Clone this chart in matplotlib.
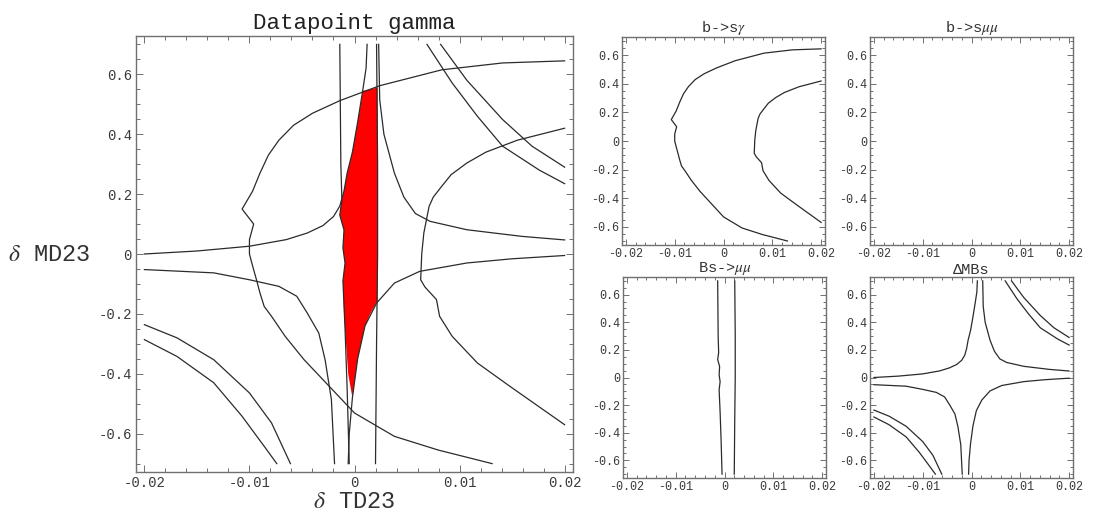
import numpy as np
import matplotlib.pyplot as plt

# tick values shared by all panels
x_ticks = [-0.02, -0.01, 0.0, 0.01, 0.02]
x_tick_labels = ['-0.02', '-0.01', '0', '0.01', '0.02']
y_ticks = [-0.6, -0.4, -0.2, 0.0, 0.2, 0.4, 0.6]
y_tick_labels = ['-0.6', '-0.4', '-0.2', '0', '0.2', '0.4', '0.6']

# b->s gamma contours
bsg_outer_x = [0.0200, 0.0141, 0.0083, 0.0024, -0.0014, -0.0040, -0.0058, -0.0072, -0.0082,
               -0.0090, -0.0097, -0.0107, -0.0096, -0.0100, -0.0100, -0.0097, -0.0093, -0.0090,
               -0.0086, -0.0079, -0.0066, -0.0048, -0.0024, 0.0000, 0.0038, 0.0080, 0.0131]
bsg_outer_y = [0.645, 0.638, 0.615, 0.562, 0.512, 0.470, 0.430, 0.380, 0.330,
               0.270, 0.210, 0.150, 0.100, 0.048, 0.000, -0.040, -0.090, -0.130,
               -0.175, -0.208, -0.275, -0.353, -0.442, -0.531, -0.609, -0.655, -0.700]
bsg_inner_x = [0.0200, 0.0155, 0.0125, 0.0107, 0.0092, 0.0083, 0.0075, 0.0071, 0.0066, 0.0064,
               0.0063, 0.0067, 0.0078, 0.0081, 0.0093, 0.0117, 0.0148, 0.0200]
bsg_inner_y = [0.420, 0.380, 0.340, 0.304, 0.265, 0.226, 0.190, 0.159, 0.070, 0.000,
               -0.086, -0.110, -0.152, -0.208, -0.275, -0.364, -0.442, -0.570]

# Bs->mu mu contours
bsmm_left_x = [-0.0014, -0.0013, -0.0012, -0.0014, -0.0010, -0.0011, -0.0009, -0.0011,
               -0.0009, -0.0007, -0.0005]
bsmm_left_y = [0.70, 0.30, 0.18, 0.13, 0.08, 0.02, -0.03, -0.09, -0.25, -0.45, -0.70]
bsmm_right_x = [0.0021, 0.0022, 0.0022, 0.0021, 0.0020]
bsmm_right_y = [0.70, 0.30, 0.00, -0.30, -0.70]

# Delta M_Bs contours
dmbs_ul_x = [-0.0200, -0.0150, -0.0100, -0.0065, -0.0045, -0.0030, -0.0020, -0.0014, -0.0010,
             -0.0007, -0.0002, 0.0003, 0.0008, 0.0011, 0.0012]
dmbs_ul_y = [0.000, 0.010, 0.026, 0.048, 0.070, 0.095, 0.125, 0.160, 0.210,
             0.270, 0.340, 0.440, 0.550, 0.620, 0.700]
dmbs_ur_x = [0.0023, 0.0024, 0.0028, 0.0038, 0.0047, 0.0058, 0.0072, 0.0107, 0.0159, 0.0200]
dmbs_ur_y = [0.700, 0.515, 0.400, 0.270, 0.190, 0.135, 0.109, 0.081, 0.059, 0.047]
dmbs_ll_x = [-0.0200, -0.0134, -0.0100, -0.0072, -0.0055, -0.0045, -0.0034, -0.0028, -0.0022, -0.0019]
dmbs_ll_y = [-0.052, -0.063, -0.086, -0.108, -0.141, -0.197, -0.264, -0.353, -0.486, -0.700]
dmbs_lr_x = [-0.0006, -0.0005, -0.0002, 0.0003, 0.0010, 0.0021, 0.0038, 0.0062, 0.0107, 0.0150, 0.0200]
dmbs_lr_y = [-0.700, -0.600, -0.480, -0.350, -0.240, -0.164, -0.097, -0.058, -0.030, -0.016, -0.005]
dmbs_tr1_x = [0.0069, 0.0093, 0.0117, 0.0141, 0.0176, 0.0200]
dmbs_tr1_y = [0.700, 0.571, 0.460, 0.360, 0.280, 0.235]
dmbs_tr2_x = [0.0082, 0.0107, 0.0141, 0.0169, 0.0200]
dmbs_tr2_y = [0.700, 0.580, 0.449, 0.360, 0.290]
dmbs_bl1_x = [-0.0200, -0.0169, -0.0134, -0.0100, -0.0079, -0.0061]
dmbs_bl1_y = [-0.236, -0.280, -0.353, -0.464, -0.564, -0.700]
dmbs_bl2_x = [-0.0200, -0.0169, -0.0134, -0.0107, -0.0086, -0.0074]
dmbs_bl2_y = [-0.286, -0.342, -0.430, -0.542, -0.642, -0.700]

# allowed region (red) outline
allowed_x = [0.0008, 0.0022, 0.0022, 0.0015, 0.0010, 0.0003, -0.0002, -0.0006, -0.0008,
             -0.0010, -0.0011, -0.0009, -0.0011, -0.0010, -0.0014, -0.0012, -0.0010,
             -0.0007, -0.0002, 0.0003]
allowed_y = [0.545, 0.556, -0.155, -0.200, -0.240, -0.350, -0.480, -0.400, -0.300,
             -0.200, -0.090, -0.030, 0.020, 0.080, 0.130, 0.180, 0.210,
             0.270, 0.340, 0.440]

bsg = [(bsg_outer_x, bsg_outer_y), (bsg_inner_x, bsg_inner_y)]
bsmm = [(bsmm_left_x, bsmm_left_y), (bsmm_right_x, bsmm_right_y)]
dmbs = [(dmbs_ul_x, dmbs_ul_y), (dmbs_ur_x, dmbs_ur_y), (dmbs_ll_x, dmbs_ll_y),
        (dmbs_lr_x, dmbs_lr_y), (dmbs_tr1_x, dmbs_tr1_y), (dmbs_tr2_x, dmbs_tr2_y),
        (dmbs_bl1_x, dmbs_bl1_y), (dmbs_bl2_x, dmbs_bl2_y)]

plt.rcParams['font.family'] = ['Liberation Mono', 'DejaVu Sans']
plt.rcParams['mathtext.fontset'] = 'stix'

LINE = '#2b2b2b'
FRAME = '#707070'


def setup(ax, fs, tl, pad):
    ax.set_xlim(-0.0208, 0.0208)
    ax.set_ylim(-0.728, 0.728)
    ax.set_xticks(x_ticks, labels=x_tick_labels)
    ax.set_yticks(y_ticks, labels=y_tick_labels)
    ax.set_xticks(np.arange(-0.02, 0.0201, 0.002), minor=True)
    ax.set_yticks(np.arange(-0.7, 0.701, 0.05), minor=True)
    ax.tick_params(which='both', direction='in', top=True, right=True,
                   color=FRAME, width=0.7, labelsize=fs, labelcolor='#3a3a3a', pad=pad)
    ax.tick_params(which='major', length=tl)
    ax.tick_params(which='minor', length=tl * 0.55)
    for s in ax.spines.values():
        s.set_color(FRAME)
        s.set_linewidth(1.0)


def draw(ax, curves):
    for cx, cy in curves:
        ax.plot(cx, cy, color=LINE, lw=0.9, zorder=3)


fig = plt.figure(figsize=(10.95, 5.13), dpi=100)
W, H = 1095.0, 513.0


def box(l, t, r, b):
    return [l / W, 1 - b / H, (r - l) / W, (b - t) / H]


ax = fig.add_axes(box(136, 36, 573, 472))
setup(ax, 10, 5, 3)
ax.fill(allowed_x, allowed_y, color='#ff0000', lw=0, zorder=2)
draw(ax, bsg + bsmm + dmbs)
ax.set_title('Datapoint gamma', fontsize=16.2, pad=5, color='#222222')
fig.text(354.5 / W, 1 - 508 / H, r'$\delta$ TD23', fontsize=17, ha='center', va='baseline', color='#333333')
fig.text(8 / W, 1 - 255 / H, r'$\delta$ MD23', fontsize=17, ha='left', va='center', color='#333333')

a1 = fig.add_axes(box(622, 37, 825, 245))
setup(a1, 8.5, 4, 2)
draw(a1, bsg)
a1.set_title(r'b->s$\gamma$', fontsize=11, pad=3, color='#333333')

a2 = fig.add_axes(box(870, 37, 1073, 245))
setup(a2, 8.5, 4, 2)
a2.set_title(r'b->s$\mu\mu$', fontsize=11, pad=3, color='#333333')

a3 = fig.add_axes(box(623, 277, 826, 478))
setup(a3, 8.5, 4, 2)
draw(a3, bsmm)
a3.set_title(r'Bs->$\mu\mu$', fontsize=11, pad=1.5, color='#333333')

a4 = fig.add_axes(box(870, 277, 1073, 478))
setup(a4, 8.5, 4, 2)
draw(a4, dmbs)
a4.set_title('ΔMBs', fontsize=11, pad=1.5, color='#333333')

fig.savefig('out.png', dpi=100)
